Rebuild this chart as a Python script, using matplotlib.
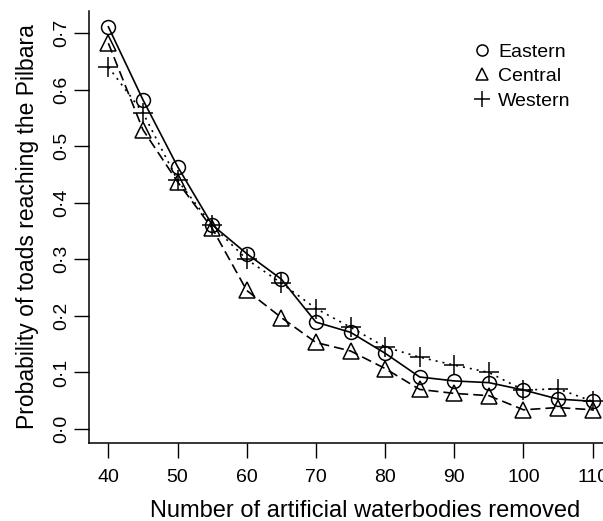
import matplotlib.pyplot as plt
from matplotlib.lines import Line2D
from matplotlib.ticker import FuncFormatter

plt.rcParams['font.family'] = ['Liberation Sans', 'DejaVu Sans']

removed = [40, 45, 50, 55, 60, 65, 70, 75, 80, 85, 90, 95, 100, 105, 110]
eastern = [0.711, 0.582, 0.464, 0.361, 0.310, 0.265, 0.189, 0.171, 0.134,
           0.092, 0.085, 0.082, 0.069, 0.053, 0.049]
central = [0.682, 0.529, 0.437, 0.355, 0.245, 0.197, 0.153, 0.138, 0.107,
           0.070, 0.063, 0.059, 0.034, 0.038, 0.034]
western = [0.640, 0.559, 0.440, 0.360, 0.300, 0.258, 0.213, 0.180, 0.145,
           0.127, 0.113, 0.100, 0.069, 0.071, 0.049]

fig = plt.figure(figsize=(6.03, 5.21), dpi=100)
ax = fig.add_axes([89 / 603, 1 - 443 / 521, (612 - 89) / 603, (443 - 11) / 521])

kw = dict(color='black', lw=1.2, markerfacecolor='none', markeredgecolor='black',
          markeredgewidth=1.1, clip_on=False)
ax.plot(removed, eastern, ls='-', marker='o', ms=10, **kw)
ax.plot(removed, central, ls=(0, (6, 3)), marker='^', ms=11, **kw)
ax.plot(removed, western, ls=(0, (1.2, 3)), marker='+', ms=14, **kw)

ax.set_xlim(37.2, 112.8)
ax.set_ylim(-0.0247, 0.739)
ax.set_xticks(range(40, 111, 10))
ax.set_yticks([i / 10 for i in range(8)])
ax.yaxis.set_major_formatter(FuncFormatter(lambda v, p: f'{v:.1f}'.replace('.', '\u00b7')))
for lab in ax.get_yticklabels():
    lab.set_rotation(90)
    lab.set_va('center')
ax.tick_params(direction='out', length=10.5, width=1, labelsize=14, colors='black')
ax.tick_params(axis='y', pad=3)
ax.tick_params(axis='x', pad=8)

for s in ['top', 'right']:
    ax.spines[s].set_visible(False)
for s in ['left', 'bottom']:
    ax.spines[s].set_linewidth(1.1)

ax.set_xlabel('Number of artificial waterbodies removed', fontsize=17)
ax.xaxis.set_label_coords(0.528, -0.132)
ax.set_ylabel('Probability of toads reaching the Pilbara', fontsize=16.5, labelpad=10)

handles = [
    Line2D([], [], ls='none', marker='o', ms=8, mfc='none', mec='black', mew=1.1),
    Line2D([], [], ls='none', marker='^', ms=9, mfc='none', mec='black', mew=1.1),
    Line2D([], [], ls='none', marker='+', ms=12, mec='black', mew=1.1),
]
ax.legend(handles, ['Eastern', 'Central', 'Western'], frameon=False, fontsize=14,
          loc='upper left', bbox_to_anchor=(0.7, 0.966), handlelength=1.0,
          handletextpad=0.3, labelspacing=0.35)

fig.savefig('out.png', dpi=100)
